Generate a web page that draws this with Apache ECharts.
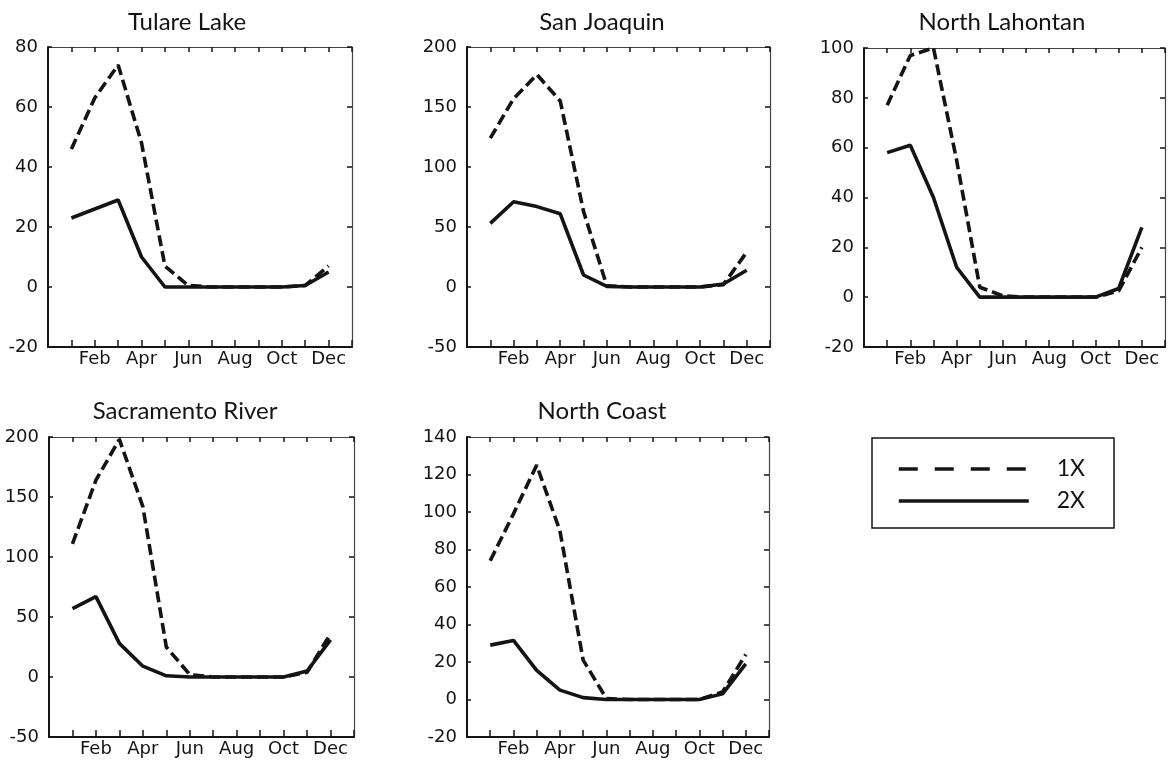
<!DOCTYPE html>
<html>
<head>
<meta charset="utf-8">
<title>1X vs 2X by region</title>
<script src="https://cdn.jsdelivr.net/npm/echarts@6/dist/echarts.min.js"></script>
<style>
  html, body { margin: 0; padding: 0; background: #fff; }
  #chart { width: 1168px; height: 762px; }
</style>
</head>
<body>
<div id="chart"></div>
<script>
// x axis: months 1..12, only every other month gets a label
const months = [1, 2, 3, 4, 5, 6, 7, 8, 9, 10, 11, 12]
const monthNames = ['Jan', 'Feb', 'Mar', 'Apr', 'May', 'Jun', 'Jul', 'Aug', 'Sep', 'Oct', 'Nov', 'Dec']
const labelledMonths = ['Feb', 'Apr', 'Jun', 'Aug', 'Oct', 'Dec']

const regions = ['Tulare Lake', 'San Joaquin', 'North Lahontan', 'Sacramento River', 'North Coast']
const seriesNames = ['1X', '2X']

// values, Jan..Dec
const tulare1x = [46, 63, 74, 48, 7, 0.5, 0, 0, 0, 0, 0.5, 7]
const tulare2x = [23, 26, 29, 10, 0, 0, 0, 0, 0, 0, 0.5, 5]
const sanJoaquin1x = [124, 157, 177, 155, 63, 1, 0, 0, 0, 0, 2, 29]
const sanJoaquin2x = [53, 71, 67, 61, 10, 0.5, 0, 0, 0, 0, 2.5, 14]
const northLahontan1x = [77, 97, 100, 55, 4, 0.5, 0, 0, 0, 0, 2.5, 20]
const northLahontan2x = [58, 61, 40, 12, 0, 0, 0, 0, 0, 0, 3.5, 28]
const sacramento1x = [111, 164, 198, 142, 25, 2, 0, 0, 0, 0, 4, 36]
const sacramento2x = [57, 67, 28, 9, 1, 0, 0, 0, 0, 0, 5, 31]
const northCoast1x = [74, 99, 125, 90, 21, 0.5, 0, 0, 0, 0, 4, 24]
const northCoast2x = [29, 31.5, 15.5, 5, 1, 0, 0, 0, 0, 0, 3, 19]

const values1x = [tulare1x, sanJoaquin1x, northLahontan1x, sacramento1x, northCoast1x]
const values2x = [tulare2x, sanJoaquin2x, northLahontan2x, sacramento2x, northCoast2x]

// y axis ticks per panel
const yMins = [-20, -50, -20, -50, -20]
const yMaxs = [80, 200, 100, 200, 140]
const yIntervals = [20, 50, 20, 50, 20]

// panel boxes (px)
const boxes = [
  { left: 48, top: 47, width: 304, height: 300 },
  { left: 467, top: 47, width: 303, height: 300 },
  { left: 864, top: 48, width: 303, height: 299 },
  { left: 49, top: 437, width: 305, height: 300 },
  { left: 467, top: 437, width: 302, height: 300 }
]
const titlePos = [[182, 5], [597, 5], [997, 5], [180, 394], [597, 394]]

const ink = '#141414'
const tickFont = { fontFamily: 'DejaVu Sans', fontSize: 18, color: ink }

const grid = []
const xAxis = []
const yAxis = []
const title = []
const series = []

regions.forEach((name, i) => {
  grid.push({ ...boxes[i], containLabel: false })

  title.push({
    text: name,
    left: titlePos[i][0],
    top: titlePos[i][1],
    textAlign: 'center',
    textStyle: { fontFamily: 'Lato', fontSize: 24, fontWeight: 'normal', color: ink }
  })

  // bottom axis with labels, top axis just for the inward ticks
  xAxis.push({
    type: 'value', gridIndex: i, min: 0, max: 13, interval: 1,
    axisLine: { onZero: false, lineStyle: { color: ink, width: 2 } },
    axisTick: { inside: true, length: 7, lineStyle: { color: ink, width: 1.5 } },
    axisLabel: {
      ...tickFont, margin: 3,
      formatter: v => {
        const m = monthNames[v - 1]
        return labelledMonths.includes(m) ? m : ''
      }
    },
    splitLine: { show: false }
  })
  xAxis.push({
    type: 'value', gridIndex: i, min: 0, max: 13, interval: 1, position: 'top',
    axisLine: { onZero: false, lineStyle: { color: '#444', width: 1.2 } },
    axisTick: { inside: true, length: 5, lineStyle: { color: ink, width: 1.5 } },
    axisLabel: { show: false },
    splitLine: { show: false }
  })

  yAxis.push({
    type: 'value', gridIndex: i, min: yMins[i], max: yMaxs[i], interval: yIntervals[i],
    axisLine: { show: true, onZero: false, lineStyle: { color: ink, width: 2 } },
    axisTick: { show: true, inside: true, length: 4, lineStyle: { color: ink, width: 1.5 } },
    axisLabel: { ...tickFont, margin: 10 },
    splitLine: { show: false }
  })
  yAxis.push({
    type: 'value', gridIndex: i, min: yMins[i], max: yMaxs[i], interval: yIntervals[i], position: 'right',
    axisLine: { show: true, onZero: false, lineStyle: { color: '#444', width: 1.2 } },
    axisTick: { show: true, inside: true, length: 5, lineStyle: { color: ink, width: 1.5 } },
    axisLabel: { show: false },
    splitLine: { show: false }
  })

  series.push({
    name: seriesNames[0], type: 'line', xAxisIndex: 2 * i, yAxisIndex: 2 * i,
    symbol: 'none', silent: true,
    itemStyle: { color: ink },
    lineStyle: { color: ink, width: 3.6, type: [11, 5] },
    data: months.map((m, k) => [m, values1x[i][k]])
  })
  series.push({
    name: seriesNames[1], type: 'line', xAxisIndex: 2 * i, yAxisIndex: 2 * i,
    symbol: 'none', silent: true,
    itemStyle: { color: ink },
    lineStyle: { color: ink, width: 3.6 },
    data: months.map((m, k) => [m, values2x[i][k]])
  })
})

const chart = echarts.init(document.getElementById('chart'))
chart.setOption({
  animation: false,
  backgroundColor: '#fff',
  title,
  grid,
  xAxis,
  yAxis,
  series,
  legend: {
    orient: 'vertical',
    left: 872,
    top: 438,
    padding: [17, 29, 13, 25],
    borderColor: ink,
    borderWidth: 1.5,
    itemWidth: 130,
    itemHeight: 20,
    itemGap: 4,
    selectedMode: false,
    itemStyle: { opacity: 0 },
    textStyle: { fontFamily: 'Lato', fontSize: 23, color: ink, lineHeight: 28, padding: [0, 0, 0, 23] },
    data: [
      { name: seriesNames[0], lineStyle: { type: [19, 17], width: 3.5, color: ink } },
      { name: seriesNames[1], lineStyle: { width: 3.5, color: ink } }
    ]
  }
})
</script>
</body>
</html>
